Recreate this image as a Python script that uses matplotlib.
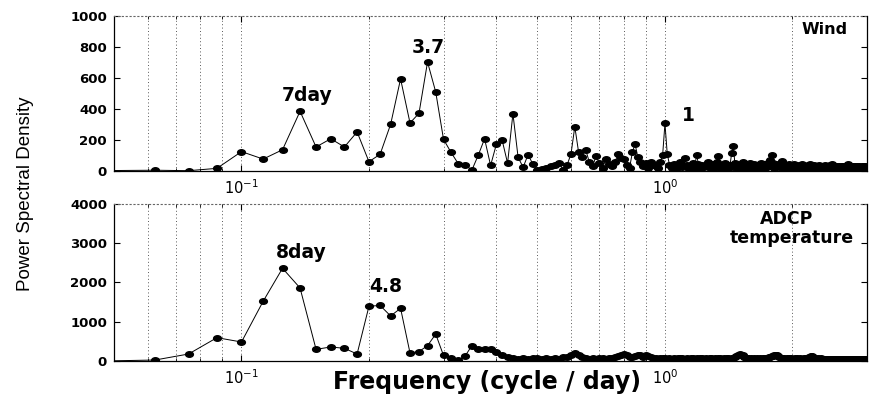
import numpy as np
import matplotlib.pyplot as plt
from matplotlib.markers import MarkerStyle
from matplotlib.transforms import Affine2D

# frequency bins at 1/80 cycle per day (bins 4..240)
freq = np.arange(4, 241) / 80.0

wind_psd = [
    3, 5, 2, 17, 125, 77, 137, 385, 155, 208,
    155, 252, 60, 108, 301, 594, 310, 372, 703, 510,
    204, 120, 47, 39, 6, 103, 208, 36, 174, 200,
    50, 370, 88, 24, 105, 45,
    5, 10, 18, 30, 39, 54, 6, 40, 110, 286,
    125, 93, 135, 60, 30, 97, 50, 20, 75, 45,
    32, 60, 110, 85, 75, 40, 20, 120, 174, 92,
    60, 30, 50, 20, 60, 40, 32, 20, 60, 103,
    307, 110, 40,
    20, 45, 10, 30, 55, 25, 82, 40, 15, 35,
    50, 20, 103, 45, 15, 40, 25, 35, 60, 30,
    10, 45, 20, 55, 97, 40, 15, 30, 50, 25,
    10, 40, 118, 161, 50, 20, 35, 15, 45, 60,
    30, 10, 40, 25, 50, 20, 35, 45, 15, 30,
    40, 20, 50, 30, 10, 45, 25, 40, 55, 70,
    103, 50, 20, 40, 30, 45, 25, 50, 66, 35,
    15, 40, 30, 20, 45, 35, 25, 40, 45, 30,
    15, 35, 25, 40, 20, 30, 45, 25, 15, 35,
    30, 40, 20, 45, 35, 25, 15, 40, 30, 20,
    35, 25, 40, 15, 30, 20, 35, 25, 40, 30,
    15, 35, 25, 40, 30, 45, 20, 30, 15, 35,
    25, 35, 20, 30, 15, 25, 35, 20, 30, 25,
    15, 35, 25, 30, 42, 20, 25, 35, 15, 30,
    25, 20, 30, 15, 35, 25, 20, 30, 25, 15,
    30, 20, 25, 30, 35, 20, 25, 15,
]

temp_psd = [
    5, 25, 178, 594, 484, 1521, 2362, 1860, 297, 357,
    323, 178, 1395, 1415, 1147, 1342, 205, 240, 391, 685,
    140, 85, 20, 130, 391, 310, 300, 300, 240, 140,
    90, 70, 60, 75, 55, 65, 80, 60, 70, 55,
    75, 60, 90, 110, 150, 195, 140, 90, 70, 60,
    75, 55, 70, 80, 60, 75, 65, 90, 120, 150,
    178, 150, 110, 90, 120, 150, 140, 110, 153, 120,
    90, 70, 80, 60, 75, 65, 80, 60, 70, 55,
    75, 60, 70, 85, 65, 55, 70, 60, 75, 65,
    55, 70, 60, 80, 65, 55, 70, 60, 75, 65,
    60, 70, 55, 65, 75, 60, 70, 55, 65, 70,
    60, 75, 65, 90, 120, 150, 178, 160, 140, 110,
    80, 65, 70, 55, 65, 60, 70, 55, 65, 60,
    70, 55, 65, 60, 75, 65, 80, 95, 110, 120,
    130, 150, 153, 140, 120, 100, 80, 70, 60, 65,
    55, 65, 60, 70, 55, 65, 60, 55, 65, 60,
    70, 55, 60, 65, 55, 60, 70, 55, 65, 60,
    75, 90, 110, 130, 120, 100, 80, 65, 60, 55,
    65, 60, 55, 65, 60, 50, 55, 60, 50, 55,
    60, 50, 55, 45, 55, 50, 45, 55, 50, 45,
    50, 55, 45, 50, 45, 55, 50, 45, 50, 40,
    45, 50, 40, 45, 50, 40, 45, 40, 50, 45,
    40, 45, 50, 40, 45, 40, 50, 45, 40, 45,
    40, 45, 50, 40, 45, 40, 45,
]

wind_ticks = [0, 200, 400, 600, 800, 1000]
temp_ticks = [0, 1000, 2000, 3000, 4000]

# flattened dot, like the scanned original
dot = MarkerStyle("o", transform=Affine2D().scale(1.4, 1.0))

fig = plt.figure(figsize=(8.69, 3.96), dpi=100)
ax_top = fig.add_axes([0.1312, 0.5682, 0.8665, 0.3914])
ax_bot = fig.add_axes([0.1312, 0.0884, 0.8665, 0.3965])

for ax, psd, ticks in [(ax_top, wind_psd, wind_ticks), (ax_bot, temp_psd, temp_ticks)]:
    ax.plot(freq, psd, color="k", lw=0.7, marker=dot, ms=4.0, mfc="k", mec="k",
            markevery=slice(1, None))
    ax.set_xscale("log")
    ax.set_xlim(0.05, 3)
    ax.set_ylim(0, ticks[-1])
    ax.set_yticks(ticks)
    ax.grid(True, which="both", axis="x", color="0.35", linestyle=(0, (1, 2.5)), linewidth=0.7)
    ax.tick_params(which="major", direction="in", top=True, right=True, length=4, pad=5)
    ax.tick_params(axis="y", labelsize=9.5)
    ax.tick_params(axis="x", labelsize=10.5)
    ax.tick_params(which="minor", direction="in", top=True, length=2)
    for lab in ax.get_yticklabels():
        lab.set_fontweight("bold")
    ax.spines["top"].set_linestyle((0, (1, 2.5)))
    ax.spines["top"].set_color("0.4")
    for s in ["left", "bottom", "right"]:
        ax.spines[s].set_linewidth(0.9)

kw = dict(ha="center", va="center", fontweight="bold")
ax_top.text(0.1426, 490, "7day", fontsize=13.5, **kw)
ax_top.text(0.2763, 794, "3.7", fontsize=13.5, **kw)
ax_top.text(1.133, 361, "1", fontsize=13.5, **kw)
ax_top.text(2.383, 910, "Wind", fontsize=11.5, **kw)

ax_bot.text(0.1387, 2752, "8day", fontsize=13.5, **kw)
ax_bot.text(0.2188, 1886, "4.8", fontsize=13.5, **kw)
ax_bot.text(1.933, 3618, "ADCP", fontsize=12.5, **kw)
ax_bot.text(1.992, 3134, "temperature", fontsize=12.5, **kw)

fig.text(0.029, 0.511, "Power Spectral Density", rotation=90, ha="center", va="center",
         fontsize=13.5, family=["Liberation Sans", "DejaVu Sans"])
fig.text(0.5604, 0.0354, "Frequency (cycle / day)", ha="center", va="center",
         fontsize=17, fontweight="bold")

fig.savefig("out.png", dpi=100)
